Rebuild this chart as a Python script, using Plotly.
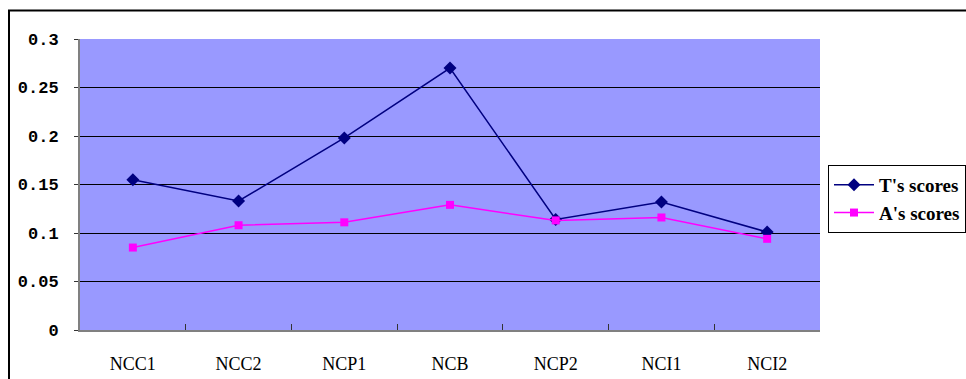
import plotly.graph_objects as go

# Categories and scores per group
categories = ["NCC1", "NCC2", "NCP1", "NCB", "NCP2", "NCI1", "NCI2"]
t_scores = [0.155, 0.133, 0.198, 0.270, 0.114, 0.132, 0.101]
a_scores = [0.085, 0.108, 0.111, 0.129, 0.113, 0.116, 0.094]

y_ticks = [0, 0.05, 0.1, 0.15, 0.2, 0.25, 0.3]
y_tick_text = ["0", "0.05", "0.1", "0.15", "0.2", "0.25", "0.3"]

W, H = 966, 379
L, R, T, B = 80, 146, 39, 49
pw, ph = W - L - R, H - T - B

fig = go.Figure()
fig.add_trace(go.Scatter(
    x=categories, y=t_scores, name="T's scores", mode="lines+markers",
    line=dict(color="#000080", width=1.5),
    marker=dict(symbol="diamond", size=10, color="#000080"),
))
fig.add_trace(go.Scatter(
    x=categories, y=a_scores, name="A's scores", mode="lines+markers",
    line=dict(color="#FF00FF", width=1.5),
    marker=dict(symbol="square", size=8, color="#FF00FF"),
))

# Outer chart frame (top and left edges fall inside the page)
fig.add_shape(
    type="rect", xref="paper", yref="paper",
    x0=(9 - L) / pw, x1=(W + 20 - L) / pw,
    y0=(H - B - (H + 20)) / ph, y1=(H - B - 10.5) / ph,
    line=dict(color="black", width=2), fillcolor="rgba(0,0,0,0)", layer="below",
)

fig.update_layout(
    width=W, height=H,
    margin=dict(l=L, r=R, t=T, b=B, pad=0, autoexpand=False),
    paper_bgcolor="white",
    plot_bgcolor="#9999FF",
    showlegend=True,
    legend=dict(
        x=(828 - L) / pw, xanchor="left",
        y=(H - B - 199) / ph, yanchor="middle",
        bgcolor="white", bordercolor="black", borderwidth=1,
        font=dict(family="Liberation Serif", size=19, color="black", weight="bold"),
        tracegroupgap=0, itemwidth=40,
    ),
    xaxis=dict(
        type="category", range=[-0.5, 6.5], automargin=False,
        tickson="boundaries", ticks="inside", ticklen=6, tickcolor="#333333",
        showgrid=False, showline=True, linecolor="#808080", linewidth=2,
        tickfont=dict(family="Liberation Serif", size=18, color="black"),
        ticklabelstandoff=16,
    ),
    yaxis=dict(
        range=[0, 0.3], tickvals=y_ticks, ticktext=y_tick_text, automargin=False,
        showgrid=True, gridcolor="black", gridwidth=1,
        zeroline=False, showline=True, linecolor="#808080", linewidth=2,
        ticks="outside", ticklen=4, tickcolor="#333333",
        tickfont=dict(family="Liberation Mono", size=17, color="black", weight="bold"),
        ticklabelstandoff=12,
    ),
)

fig.write_html("out.html")
